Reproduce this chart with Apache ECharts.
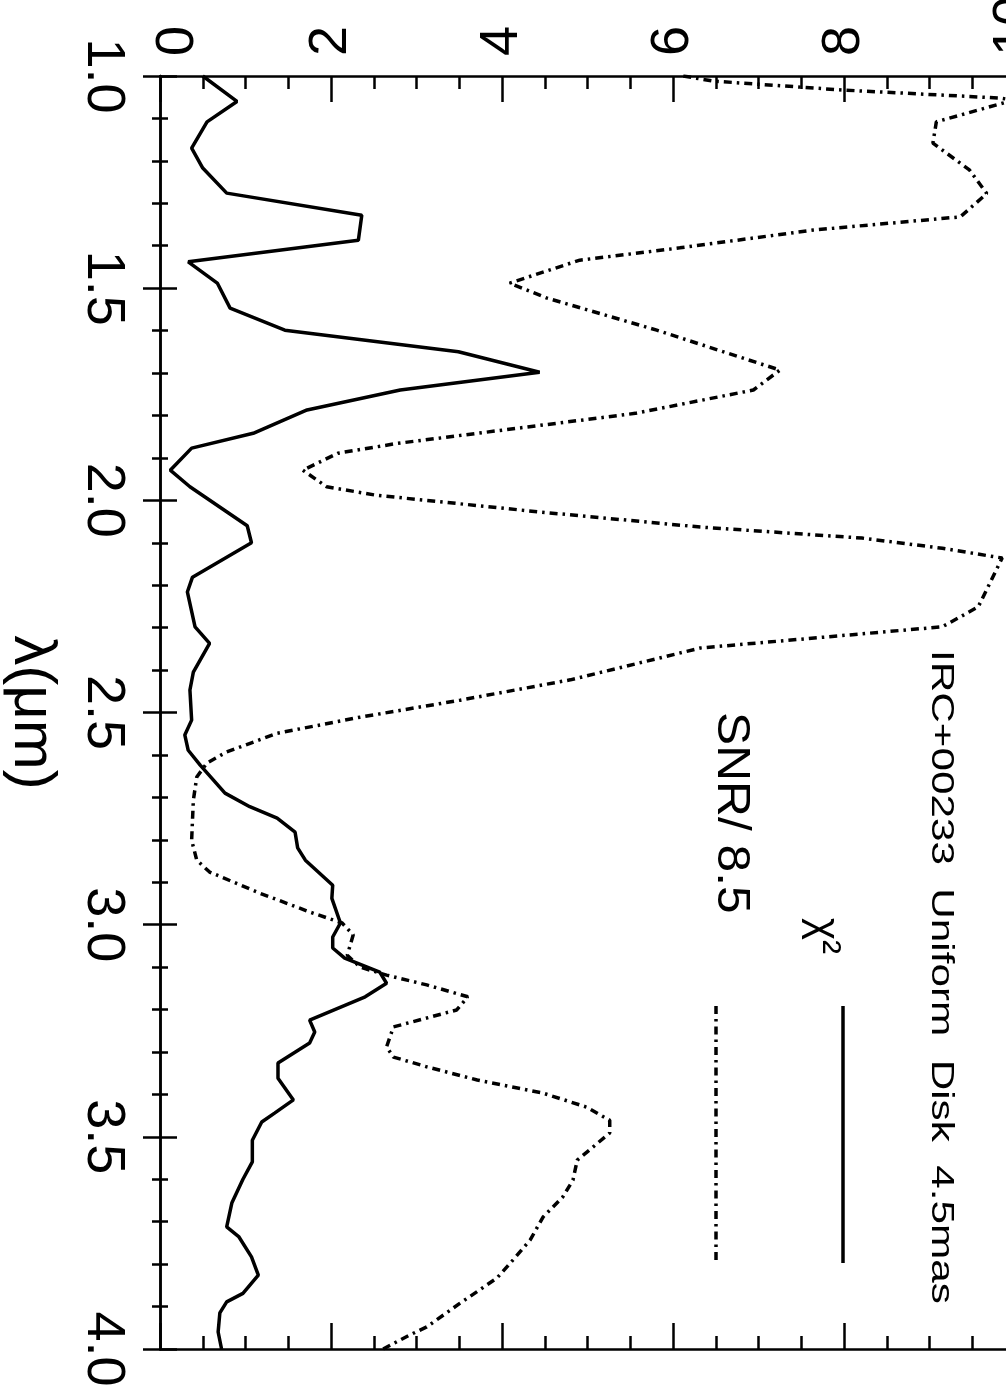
<!DOCTYPE html>
<html>
<head>
<meta charset="utf-8">
<script src="https://cdn.jsdelivr.net/npm/echarts@6/dist/echarts.min.js"></script>
<style>
html,body{margin:0;padding:0;background:#fff;}
#chart{width:1006px;height:1386px;}
</style>
</head>
<body>
<div id="chart"></div>
<script>
// λ (micron) sample positions and values for chi-square curve (solid)
const chiLambda = [1.000,1.060,1.108,1.170,1.217,1.276,1.328,1.387,1.438,1.488,1.547,1.599,1.650,1.698,1.740,1.787,1.842,1.877,1.929,1.968,2.060,2.100,2.181,2.216,2.298,2.337,2.405,2.447,2.518,2.553,2.589,2.624,2.690,2.722,2.749,2.782,2.819,2.848,2.907,2.938,2.996,3.029,3.055,3.079,3.112,3.138,3.170,3.225,3.253,3.279,3.326,3.362,3.413,3.444,3.465,3.508,3.559,3.600,3.656,3.712,3.735,3.783,3.826,3.869,3.889,3.915,3.960,4.000];
const chiValue  = [0.50,0.90,0.55,0.37,0.50,0.78,2.36,2.32,0.33,0.67,0.82,1.46,3.49,4.44,2.81,1.72,1.09,0.37,0.12,0.35,1.02,1.07,0.38,0.32,0.41,0.58,0.39,0.35,0.37,0.29,0.33,0.47,0.76,1.05,1.37,1.58,1.61,1.70,2.02,2.01,2.11,2.02,2.02,2.16,2.57,2.65,2.40,1.75,1.81,1.75,1.38,1.38,1.56,1.34,1.19,1.08,1.08,0.97,0.84,0.78,0.92,1.07,1.15,0.97,0.78,0.70,0.68,0.72];

// SNR / 8.5 curve (dash-dot)
const snrLambda = [1.000,1.012,1.033,1.052,1.057,1.108,1.158,1.222,1.277,1.332,1.363,1.405,1.434,1.488,1.523,1.599,1.693,1.740,1.795,1.866,1.889,1.929,1.968,1.988,2.027,2.063,2.089,2.113,2.136,2.251,2.298,2.348,2.423,2.471,2.511,2.549,2.593,2.619,2.652,2.707,2.801,2.848,2.876,2.926,2.970,2.996,3.024,3.072,3.100,3.119,3.142,3.170,3.201,3.241,3.288,3.312,3.335,3.366,3.397,3.430,3.461,3.491,3.555,3.602,3.642,3.689,3.743,3.790,3.833,3.892,3.948,3.967,4.000];
const snrValue  = [6.12,6.47,7.98,9.83,9.98,9.08,9.04,9.47,9.67,9.36,7.64,6.08,4.91,4.09,4.52,5.81,7.25,6.94,5.56,2.77,2.08,1.67,1.95,2.53,4.42,6.32,8.21,9.15,9.85,9.57,9.15,6.32,4.80,3.51,2.34,1.37,0.78,0.55,0.43,0.39,0.37,0.43,0.58,1.17,1.75,2.13,2.26,2.19,2.34,2.65,3.12,3.60,3.47,2.73,2.65,2.73,3.12,3.71,4.48,4.99,5.26,5.26,4.88,4.83,4.71,4.48,4.33,4.13,3.94,3.51,3.12,2.92,2.61];

const titleText = 'IRC+00233  Uniform  Disk  4.5mas';
const legendChi = 'χ²';
const legendSnr = 'SNR/ 8.5';
const xAxisName = 'λ(μm)';

const FONT = 'Liberation Sans';

const chart = echarts.init(document.getElementById('chart'), null, {renderer: 'canvas'});

function pairs(ls, vs){ return ls.map((l,i)=>[vs[i], l]); }

const axisLineStyle = {color:'#000', width:2.5};
const tickStyle = {color:'#000', width:2.5};

const option = {
  animation: false,
  backgroundColor: '#fff',
  grid: {left:160, top:76, width:855, height:1273, containLabel:false, outerBoundsMode:'none'},
  xAxis: [
    {
      type:'value', position:'top', min:0, max:10, interval:2,
      axisLine:{show:true, lineStyle:axisLineStyle},
      axisTick:{show:true, inside:true, length:26, lineStyle:tickStyle},
      minorTick:{show:true, splitNumber:4, length:13, lineStyle:tickStyle},
      splitLine:{show:false}, minorSplitLine:{show:false},
      axisLabel:{
        show:true, rotate:-90, fontSize:54, fontFamily:FONT, color:'#000', margin:20,
        formatter: v => v === 0 ? '{z|0}' : String(v),
        rich:{ z:{fontSize:54, fontFamily:FONT, color:'#000', padding:[36,0,0,0]} }
      }
    },
    {
      type:'value', position:'bottom', min:0, max:10, interval:2,
      axisLine:{show:true, lineStyle:axisLineStyle},
      axisTick:{show:true, inside:true, length:26, lineStyle:tickStyle},
      minorTick:{show:true, splitNumber:4, length:13, lineStyle:tickStyle},
      splitLine:{show:false}, minorSplitLine:{show:false},
      axisLabel:{show:false}
    }
  ],
  yAxis: [
    {
      type:'value', position:'left', inverse:true, min:1, max:4, interval:0.5,
      axisLine:{show:true, lineStyle:axisLineStyle},
      axisTick:{show:true, inside:true, length:17, lineStyle:tickStyle},
      minorTick:{show:true, splitNumber:5, length:8, lineStyle:tickStyle},
      splitLine:{show:false}, minorSplitLine:{show:false},
      axisLabel:{show:true, rotate:-90, fontSize:54, fontFamily:FONT, color:'#000', margin:30,
        formatter: v => v.toFixed(1)},
      name: xAxisName, nameLocation:'middle', nameRotate:-90, nameGap:98,
      nameTextStyle:{fontSize:60, fontFamily:FONT, color:'#000'}
    },
    {
      type:'value', position:'right', inverse:true, min:1, max:4, interval:0.5,
      axisLine:{show:true, lineStyle:axisLineStyle},
      axisTick:{show:true, inside:true, length:17, lineStyle:tickStyle},
      minorTick:{show:true, splitNumber:5, length:8, lineStyle:tickStyle},
      splitLine:{show:false}, minorSplitLine:{show:false},
      axisLabel:{show:false}
    }
  ],
  series: [
    {
      name: legendChi, type:'line', xAxisIndex:0, yAxisIndex:0,
      data: pairs(chiLambda, chiValue), showSymbol:false, symbol:'none',
      lineStyle:{color:'#000', width:3.5}, clip:true
    },
    {
      name: legendSnr, type:'line', xAxisIndex:0, yAxisIndex:0,
      data: pairs(snrLambda, snrValue), showSymbol:false, symbol:'none',
      lineStyle:{color:'#000', width:3.5, type:[8,5,2.5,5]}, clip:true
    }
  ],
  graphic: [
    { type:'text', x:941, y:650, rotation:-Math.PI/2, scaleX:1.32, scaleY:1,
      style:{text:titleText, fontSize:32, fontFamily:FONT, fill:'#000', align:'left', verticalAlign:'middle'} },
    { type:'text', x:823, y:918, rotation:-Math.PI/2,
      style:{text:legendChi, fontSize:42, fontFamily:FONT, fill:'#000', align:'left', verticalAlign:'middle'} },
    { type:'text', x:731, y:712, rotation:-Math.PI/2, scaleX:1.08,
      style:{text:legendSnr, fontSize:46, fontFamily:FONT, fill:'#000', align:'left', verticalAlign:'middle'} },
    { type:'line', shape:{x1:843, y1:1006, x2:843, y2:1263},
      style:{stroke:'#000', lineWidth:3.5} },
    { type:'line', shape:{x1:716, y1:1006, x2:716, y2:1261},
      style:{stroke:'#000', lineWidth:3.5, lineDash:[8,5,2.5,5]} }
  ]
};
chart.setOption(option);
</script>
</body>
</html>
